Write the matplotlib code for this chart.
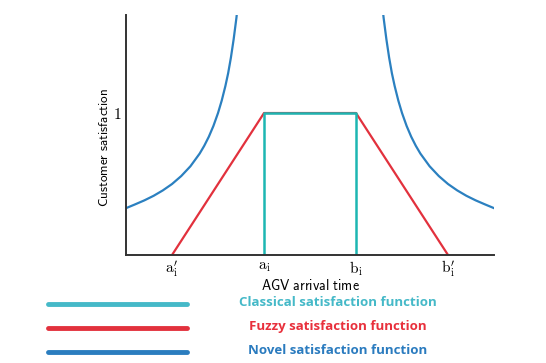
import matplotlib.pyplot as plt
from matplotlib.lines import Line2D

plt.rcParams['mathtext.fontset'] = 'cm'

# x positions: a_i' = 1, a_i = 2, b_i = 3, b_i' = 4
tick_pos = [1, 2, 3, 4]
tick_labels = [r"$\mathrm{a}_\mathrm{i}^{\prime}$", r"$\mathrm{a}_\mathrm{i}$",
               r"$\mathrm{b}_\mathrm{i}$", r"$\mathrm{b}_\mathrm{i}^{\prime}$"]

classical_x = [2, 2, 3, 3]
classical_y = [0, 1, 1, 0]

fuzzy_x = [1, 2, 3, 4]
fuzzy_y = [0, 1, 1, 0]

novel_left_x = [0.5, 0.6, 0.7, 0.8, 0.9, 1.0, 1.1, 1.2, 1.3, 1.35, 1.4, 1.45,
                1.5, 1.54, 1.58, 1.61, 1.64, 1.67, 1.7, 1.72]
novel_left_y = [0.33, 0.357, 0.385, 0.417, 0.455, 0.5, 0.556, 0.625, 0.714, 0.769,
                0.833, 0.909, 1.0, 1.087, 1.19, 1.28, 1.39, 1.52, 1.67, 1.79]
novel_right_x = [3.28, 3.3, 3.33, 3.36, 3.39, 3.42, 3.46, 3.5, 3.55, 3.6, 3.65,
                 3.7, 3.8, 3.9, 4.0, 4.1, 4.2, 4.3, 4.4, 4.5]
novel_right_y = [1.79, 1.67, 1.52, 1.39, 1.28, 1.19, 1.087, 1.0, 0.909, 0.833,
                 0.769, 0.714, 0.625, 0.556, 0.5, 0.455, 0.417, 0.385, 0.357, 0.33]

legend_names = ["Classical satisfaction function", "Fuzzy satisfaction function",
                "Novel satisfaction function"]

c_teal = '#1db6b2'
c_red = '#e2313d'
c_blue = '#2b80c0'
legend_line_colors = ['#45b9c8', '#e2313d', '#2b7dbf']
legend_text_colors = ['#45b9c8', '#e8303c', '#2a7bbf']

fig = plt.figure(figsize=(5.46, 3.63), dpi=100)
ax = fig.add_axes([0.2308, 0.2975, 0.674, 0.661])

ax.plot(novel_left_x, novel_left_y, color=c_blue, lw=1.6, solid_joinstyle='round')
ax.plot(novel_right_x, novel_right_y, color=c_blue, lw=1.6, solid_joinstyle='round')
ax.plot(fuzzy_x, fuzzy_y, color=c_red, lw=1.6)
ax.plot(classical_x, classical_y, color=c_teal, lw=1.8)

ax.set_xlim(0.5, 4.5)
ax.set_ylim(0, 1.69)
ax.set_xticks(tick_pos)
ax.set_xticklabels(tick_labels, fontsize=11)
ax.set_yticks([1])
ax.set_yticklabels([r"$1$"], fontsize=11)
ax.tick_params(length=0, pad=3)
for s in ['top', 'right']:
    ax.spines[s].set_visible(False)
for s in ['left', 'bottom']:
    ax.spines[s].set_linewidth(1.4)
    ax.spines[s].set_color('#333333')

ax.set_xlabel(r"$\mathsf{AGV\ arrival\ time}$", fontsize=10, labelpad=-1)
ax.set_ylabel(r"$\mathsf{Customer\ satisfaction}$", fontsize=9.5)
ax.yaxis.set_label_coords(-0.04, 0.45)

# legend drawn below the axes
ys = [1 - 304 / 363, 1 - 328 / 363, 1 - 352 / 363]
for y, name, lc, tc in zip(ys, legend_names, legend_line_colors, legend_text_colors):
    fig.add_artist(Line2D([48 / 546, 187 / 546], [y, y], color=lc, lw=3.5,
                          solid_capstyle='round', transform=fig.transFigure))
    fig.text(338 / 546, y + 0.004, name, color=tc, fontsize=9.5, fontweight='bold',
             family='Open Sans', ha='center', va='center')

fig.savefig('out.png', dpi=100)
